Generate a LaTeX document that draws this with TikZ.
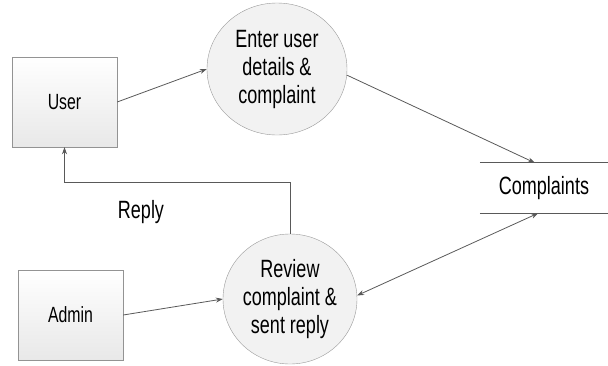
\documentclass[tikz,border=0pt]{standalone}
\usepackage{fontspec}
\setmainfont{Liberation Sans}[FakeStretch=0.72]
\usetikzlibrary{arrows.meta,shapes.geometric}
\tikzstyle{entity}=[rectangle, draw=gray!85, top color=white, bottom color=gray!18, minimum width=105pt, minimum height=90pt, inner sep=0pt, font=\fontsize{22}{26}\selectfont]
\tikzstyle{process}=[ellipse, draw=gray!80, fill=gray!10, inner sep=0pt, align=center, font=\fontsize{25}{28}\selectfont]
\tikzstyle{datastore}=[rectangle, minimum width=128pt, minimum height=50pt, inner sep=0pt, font=\fontsize{25}{28}\selectfont]
\tikzstyle{flow}=[draw, line width=.8pt, gray!70!black, -{Stealth[length=7pt,width=5pt]}]
\tikzstyle{both}=[flow, {Stealth[length=7pt,width=5pt]}-{Stealth[length=7pt,width=5pt]}]
\tikzstyle{label}=[font=\fontsize{25}{28}\selectfont]

\begin{document}
\begin{tikzpicture}[x=1pt, y=-1pt]

	\useasboundingbox (0,0) rectangle (608,365);

	\node[entity] (user) at (64.5,102) {User};
	\node[entity] (admin) at (70.5,315) {Admin};

	\node[process, minimum width=140pt, minimum height=132pt] (enter) at (277,69) {Enter user\\details \&\\complaint};
	\node[process, minimum width=134pt, minimum height=130pt] (review) at (290,299) {Review\\complaint \&\\sent reply};

	\node[datastore] (complaints) at (544,188) {Complaints};
	\draw[gray!70!black, line width=.8pt] (complaints.north west) -- (complaints.north east);
	\draw[gray!70!black, line width=.8pt] (complaints.south west) -- (complaints.south east);

	\coordinate (turn) at (64.5,182);
	\node[label] (reply) at (141,212) {Reply};

	\draw[flow] (user.east) -- (enter.west);
	\draw[flow] (enter.-5) -- (complaints.110);
	\draw[flow] (admin.east) -- (review.west);
	\draw[flow] (review.north) |- (turn) -- (user.south);
	\draw[both] (review.3) -- (complaints.257);

\end{tikzpicture}
\end{document}
